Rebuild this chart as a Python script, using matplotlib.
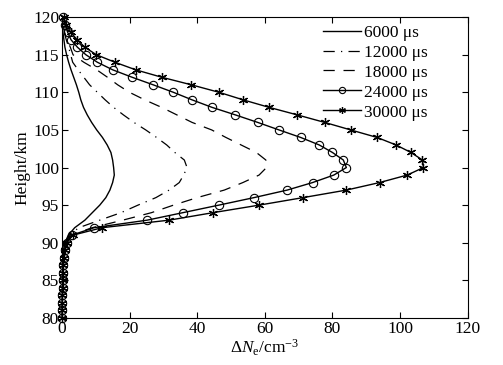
import numpy as np
import matplotlib.pyplot as plt

plt.rcParams['font.family'] = 'Liberation Serif'
plt.rcParams['mathtext.fontset'] = 'custom'
plt.rcParams['mathtext.rm'] = 'Liberation Serif'
plt.rcParams['mathtext.it'] = 'Liberation Serif:italic'

height = np.arange(80, 121)

# 6000 us
ne_6000 = [0.05, 0.05, 0.05, 0.1, 0.1, 0.1, 0.15, 0.2, 0.3, 0.5, 0.9, 1.9, 3.8, 6.8, 9.0, 11.2,
           13.0, 14.2, 15.0, 15.5, 15.3, 15.0, 14.5, 13.4, 12.0, 10.3, 8.8, 7.5, 6.4, 5.6, 5.0,
           4.3, 3.5, 2.7, 2.0, 1.4, 0.9, 0.6, 0.3, 0.15, 0.05]
# 12000 us
ne_12000 = [0.1, 0.1, 0.1, 0.15, 0.2, 0.25, 0.3, 0.4, 0.5, 0.7, 1.1, 2.2, 5.0, 11.2, 17.5, 22.5,
            27.8, 31.7, 34.7, 36.0, 37.0, 36.2, 33.4, 31.0, 28.0, 24.8, 21.3, 18.2, 15.3, 12.8, 10.5,
            8.2, 6.5, 4.8, 3.2, 2.6, 2.0, 1.3, 0.7, 0.3, 0.1]
# 18000 us
ne_18000 = [0.1, 0.1, 0.1, 0.15, 0.2, 0.25, 0.3, 0.4, 0.5, 0.8, 1.2, 2.5, 9.0, 18.0, 26.5, 33.0,
            40.0, 48.0, 53.5, 58.3, 60.5, 60.3, 57.5, 53.0, 48.5, 44.3, 38.5, 34.0, 29.5, 24.5, 20.0,
            16.5, 13.5, 10.3, 6.5, 3.3, 2.5, 1.5, 0.8, 0.4, 0.2]
# 24000 us
ne_24000 = [0.1, 0.1, 0.1, 0.15, 0.2, 0.25, 0.3, 0.4, 0.6, 0.9, 1.4, 2.9, 9.5, 25.2, 35.8, 46.4,
            56.8, 66.6, 74.1, 80.4, 84.1, 83.2, 80.0, 76.1, 70.6, 64.2, 57.9, 51.3, 44.4, 38.5, 33.0,
            27.0, 20.8, 15.0, 10.5, 7.1, 4.6, 2.7, 1.7, 0.9, 0.4]
# 30000 us
ne_30000 = [0.1, 0.1, 0.1, 0.15, 0.2, 0.25, 0.3, 0.4, 0.6, 0.9, 1.5, 3.2, 11.9, 31.7, 44.7, 58.3,
            71.3, 84.1, 93.9, 102.1, 106.9, 106.6, 103.2, 98.8, 93.2, 85.4, 77.7, 69.6, 61.3, 53.6, 46.5,
            38.3, 29.6, 21.8, 15.7, 10.2, 6.8, 4.5, 2.6, 1.3, 0.5]

labels = ['6000 μs', '12000 μs', '18000 μs', '24000 μs', '30000 μs']

fig = plt.figure(figsize=(5.03, 3.65), dpi=100)
ax = fig.add_axes([0.123, 0.129, 0.807, 0.824])

ax.plot(ne_6000, height, color='k', lw=1, label=labels[0])
ax.plot(ne_12000, height, color='k', lw=0.9, dashes=(9, 5, 1, 5), label=labels[1])
ax.plot(ne_18000, height, color='k', lw=0.9, dashes=(9, 7), label=labels[2])
ax.plot(ne_24000, height, color='k', lw=1, marker='o', ms=6, mfc='none', mew=0.8,
        clip_on=False, label=labels[3])
ax.plot(ne_30000, height, color='k', lw=1, marker=(6, 2, 0), ms=6.5, mew=0.9,
        clip_on=False, label=labels[4])

ax.set_xlim(0, 120)
ax.set_ylim(80, 120)
ax.set_xticks(np.arange(0, 121, 20))
ax.set_yticks(np.arange(80, 121, 5))
ax.tick_params(direction='in', top=True, right=True, labelsize=12.5, length=4, width=0.8, pad=2)
ax.set_xlabel(r'$\Delta \it{N}_{\rm e}$/cm$^{-3}$', fontsize=12.5, labelpad=1)
ax.set_ylabel('Height/km', fontsize=12.5, labelpad=2)
for s in ax.spines.values():
    s.set_linewidth(0.8)

ax.legend(loc='upper right', bbox_to_anchor=(0.915, 0.993), frameon=False, fontsize=12.5,
          handlelength=2.2, labelspacing=0.22, borderaxespad=0, borderpad=0.3,
          handletextpad=0.2, markerscale=0.75)

fig.savefig('out.png', dpi=100)
